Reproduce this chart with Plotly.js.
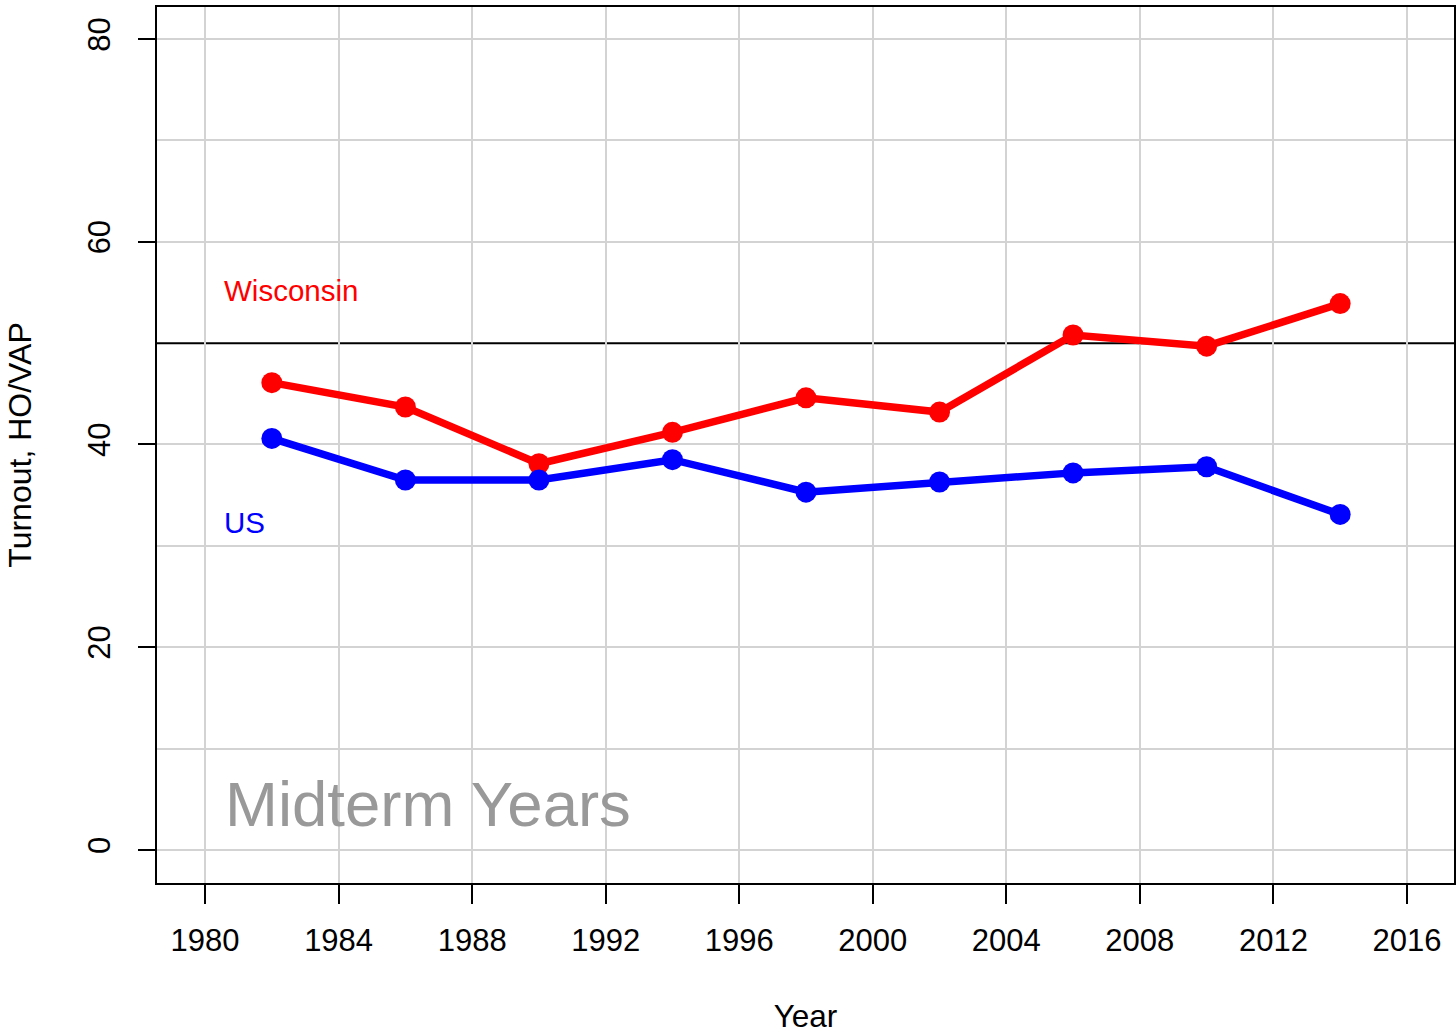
<!DOCTYPE html>
<html>
<head>
<meta charset="utf-8">
<script src="https://cdn.plot.ly/plotly-3.0.1.min.js"></script>
<style>html,body{margin:0;padding:0;background:#fff;}#chart{width:1456px;height:1034px;}</style>
</head>
<body>
<div id="chart"></div>
<script>
const years = [1982, 1986, 1990, 1994, 1998, 2002, 2006, 2010, 2014];
const wisconsin = [46.1, 43.7, 38.1, 41.2, 44.6, 43.2, 50.8, 49.7, 53.9];
const us = [40.6, 36.5, 36.5, 38.5, 35.3, 36.3, 37.2, 37.8, 33.1];
const xTicks = [1980, 1984, 1988, 1992, 1996, 2000, 2004, 2008, 2012, 2016];
const yTicks = [0, 20, 40, 60, 80];
const yMinorGrid = [10, 30, 70];
const referenceLevel = 50;

const font = "Liberation Sans, Arial, sans-serif";

const traces = [
  {x: years, y: wisconsin, mode: 'lines+markers', name: 'Wisconsin',
   line: {color: '#ff0000', width: 7.5}, marker: {color: '#ff0000', size: 21}},
  {x: years, y: us, mode: 'lines+markers', name: 'US',
   line: {color: '#0000ff', width: 7.5}, marker: {color: '#0000ff', size: 21}}
];

const layout = {
  width: 1456, height: 1034,
  margin: {l: 157, r: 2, t: 7, b: 151, pad: 0},
  paper_bgcolor: '#fff', plot_bgcolor: '#fff',
  showlegend: false,
  font: {family: font, size: 31, color: '#000'},
  xaxis: {
    range: [1978.56, 2017.41], tickvals: xTicks, ticktext: xTicks.map(String),
    ticks: 'outside', ticklen: 19, tickwidth: 2, tickcolor: '#000',
    tickfont: {size: 31},
    showgrid: true, gridcolor: '#d3d3d3', gridwidth: 2,
    showline: true, linecolor: '#000', linewidth: 2, mirror: true,
    zeroline: false, ticklabelstandoff: 10,
    title: {text: 'Year', font: {size: 31.5}, standoff: 49},
    automargin: false
  },
  yaxis: {
    range: [-3.26, 83.16], tickvals: yTicks, ticktext: yTicks.map(String),
    ticks: 'outside', ticklen: 17, tickwidth: 2, tickcolor: '#000', tickangle: -90,
    tickfont: {size: 31},
    showgrid: true, gridcolor: '#d3d3d3', gridwidth: 2,
    minor: {tickvals: yMinorGrid, showgrid: true, gridcolor: '#d3d3d3', gridwidth: 2, ticks: ''},
    showline: true, linecolor: '#000', linewidth: 2, mirror: true,
    zeroline: false, ticklabelstandoff: 16,
    title: {text: 'Turnout, HO/VAP', font: {size: 32}, standoff: 40},
    automargin: false
  },
  shapes: [{type: 'line', xref: 'paper', x0: 0, x1: 1, yref: 'y', y0: referenceLevel, y1: referenceLevel,
            line: {color: '#000', width: 2}, layer: 'between'}],
  annotations: [
    {x: 1980.51, y: 55.2, xref: 'x', yref: 'y', text: 'Wisconsin', showarrow: false,
     xanchor: 'left', yanchor: 'middle', font: {size: 29.5, color: '#ff0000'}},
    {x: 1980.51, y: 32.3, xref: 'x', yref: 'y', text: 'US', showarrow: false,
     xanchor: 'left', yanchor: 'middle', font: {size: 29.5, color: '#0000ff'}},
    {x: 1980.55, y: 4.5, xref: 'x', yref: 'y', text: 'Midterm Years', showarrow: false,
     xanchor: 'left', yanchor: 'middle', font: {size: 63.5, color: '#999999'}}
  ]
};

Plotly.newPlot('chart', traces, layout, {displayModeBar: false, staticPlot: true});
</script>
</body>
</html>
